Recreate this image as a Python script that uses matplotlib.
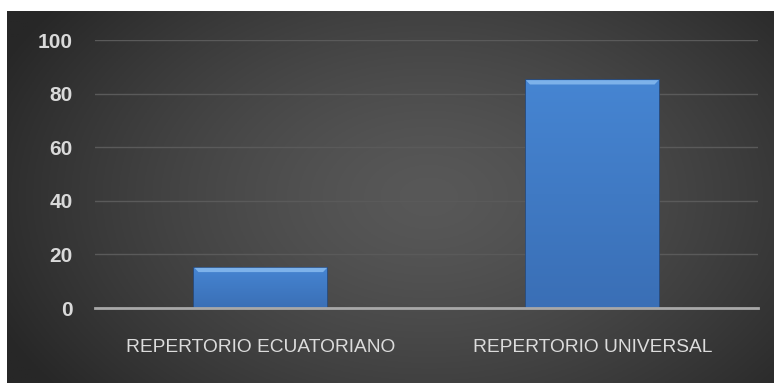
import numpy as np
import matplotlib
matplotlib.use("Agg")
from matplotlib import pyplot as plt
from matplotlib.colors import LinearSegmentedColormap

categories = ["REPERTORIO ECUATORIANO", "REPERTORIO UNIVERSAL"]
values = [15, 85]
yticks = [0, 20, 40, 60, 80, 100]

W, H = 774, 383
fig = plt.figure(figsize=(W / 100, H / 100), dpi=100, facecolor="white")

# dark panel with a soft radial glow
bg = fig.add_axes([7 / W, 0, 767 / W, 372 / H])
bg.set_axis_off()
gx, gy = np.meshgrid(np.linspace(0, 1, 400), np.linspace(0, 1, 200))
r = np.sqrt(((gx - 0.55) / 0.62) ** 2 + ((gy - 0.5) / 0.85) ** 2)
r = np.clip(r, 0, 1)
shade = (0x58 - (0x58 - 0x27) * r ** 1.4) / 255.0
bg.imshow(np.dstack([shade, shade, shade]), aspect="auto", extent=(0, 1, 0, 1))
bg.set_xlim(0, 1)
bg.set_ylim(0, 1)

ax = fig.add_axes([95 / W, (H - 308) / H, (758 - 95) / W, (308 - 40) / H])
ax.patch.set_alpha(0)
x = np.arange(len(categories))
bars = ax.bar(x, values, width=0.4, color="#3f7fcf", edgecolor="#264f88",
              linewidth=1.2, zorder=3)

# vertical shading inside each bar plus a bevelled top edge
bar_cmap = LinearSegmentedColormap.from_list("barshade", ["#3a6fb6", "#4685d2"])
for b in bars:
    x0, y0 = b.get_x(), b.get_y()
    w, h = b.get_width(), b.get_height()
    im = ax.imshow(np.linspace(0, 1, 100).reshape(-1, 1), cmap=bar_cmap,
                   origin="lower", aspect="auto",
                   extent=(x0, x0 + w, y0, y0 + h), zorder=3.5)
    im.set_clip_path(b)
    ax.fill([x0, x0 + w, x0 + w - 0.012, x0 + 0.012],
            [y0 + h, y0 + h, y0 + h - 1.6, y0 + h - 1.6],
            color="#7db2ea", lw=0, zorder=4)

ax.set_xlim(-0.5, 1.5)
ax.set_ylim(0, 100)
ax.set_yticks(yticks)
ax.set_xticks(x)
ax.set_xticklabels(categories, fontfamily="Liberation Sans", fontsize=13.8,
                   color="#dcdcdc")
for lab in ax.get_yticklabels():
    lab.set_fontfamily("Liberation Sans")
    lab.set_fontweight("bold")
    lab.set_fontsize(15)
    lab.set_color("#d9d9d9")
ax.tick_params(axis="y", length=0, pad=16)
ax.tick_params(axis="x", length=0, pad=22)
ax.grid(axis="y", color="#5a5a5a", linewidth=1.0, zorder=0)
for side in ["top", "right", "left"]:
    ax.spines[side].set_visible(False)
ax.spines["bottom"].set_color("#a8a8a8")
ax.spines["bottom"].set_linewidth(2.0)
ax.spines["bottom"].set_zorder(5)

fig.savefig("out.png", dpi=100, facecolor="white")
